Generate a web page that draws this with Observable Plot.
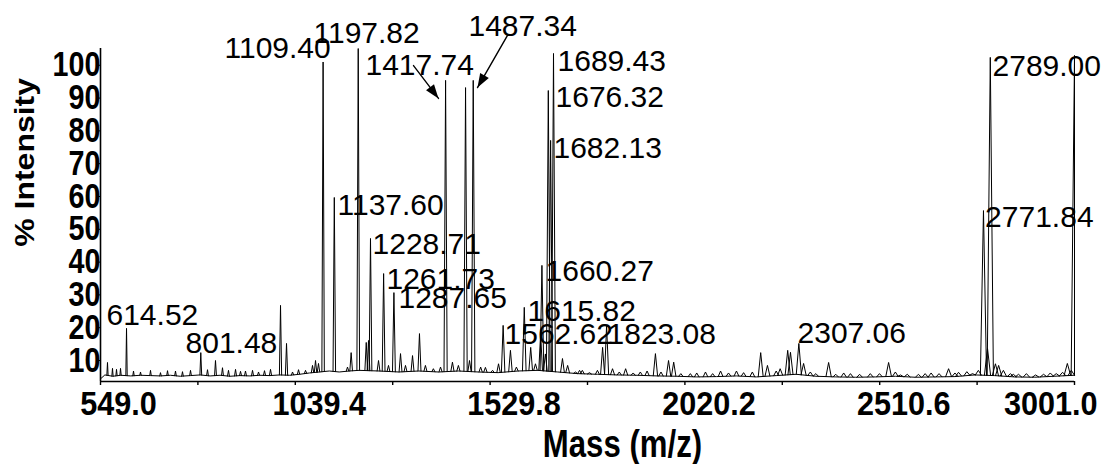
<!DOCTYPE html>
<html><head><meta charset="utf-8">
<script src="https://cdn.jsdelivr.net/npm/d3@7"></script>
<script src="https://cdn.jsdelivr.net/npm/@observablehq/plot@0.6"></script>
<style>
html,body{margin:0;padding:0;background:#fff;}
#chart{width:1110px;height:464px;overflow:hidden;}
</style></head><body><div id="chart"></div>
<script>
// ---- data ----
const peakMass = [566.6,579.2,589.3,599.4,614.52,632.1,649.7,674.9,700.0,717.7,737.8,755.4,775.6,801.48,818.4,838.5,856.1,871.2,888.9,901.5,914.0,931.7,946.8,961.9,977.0,1002.2,1017.3,1032.4,1047.5,1065.1,1082.7,1090.3,1097.8,1109.40,1137.60,1170.8,1180.0,1197.82,1218.0,1223.7,1228.71,1248.9,1261.73,1274.0,1287.65,1304.3,1316.8,1334.5,1352.0,1367.0,1387.0,1405.0,1417.74,1435.0,1450.0,1468.0,1478.0,1487.34,1506.0,1518.0,1536.0,1551.0,1562.62,1581.0,1596.0,1615.82,1632.0,1644.0,1657.0,1660.27,1669.0,1676.32,1682.13,1689.43,1712.0,1725.0,1745.0,1755.0,1762.0,1780.0,1800.0,1813.0,1823.08,1838.0,1855.0,1871.0,1890.0,1908.0,1925.0,1946.0,1960.0,1979.0,1992.0,2010.0,2034.0,2050.0,2072.0,2090.0,2110.0,2130.0,2150.0,2168.0,2190.0,2211.0,2228.0,2250.0,2260.0,2279.0,2286.0,2307.06,2319.0,2336.0,2350.0,2382.0,2400.0,2420.0,2437.0,2460.0,2487.0,2510.0,2533.0,2550.0,2563.0,2580.0,2608.0,2625.0,2640.0,2660.0,2684.0,2700.0,2709.0,2730.0,2744.0,2759.0,2771.84,2782.0,2789.00,2802.0,2810.0,2822.0,2840.0,2847.0,2860.0,2880.0,2903.0,2923.0,2940.0,2955.0,2971.0,2983.0,2993.0,3001.0];
const peakInt  = [9.4,7.6,7.3,7.6,19.8,6.8,6.5,7.0,6.3,6.9,6.8,6.6,7.0,12.4,7.2,10.0,7.8,7.0,7.3,6.7,6.8,7.0,6.5,6.9,7.3,26.8,15.2,6.5,7.2,7.0,8.5,10.0,9.1,101.0,59.7,8.0,12.4,105.1,15.5,16.1,47.2,10.0,36.5,8.5,30.7,12.1,8.5,11.5,18.2,8.5,7.5,8.0,95.4,9.5,8.5,93.2,10.0,95.4,8.0,7.9,7.0,9.0,20.7,13.1,8.0,26.2,14.0,9.0,18.2,39.0,12.0,92.3,77.1,103.6,10.6,8.5,6.5,7.0,7.0,6.3,7.0,14.0,20.7,7.5,6.5,7.5,6.2,6.5,6.8,12.1,6.5,10.0,9.5,6.0,6.0,6.2,6.5,6.0,6.8,6.2,6.8,6.3,6.5,12.4,8.5,6.8,7.5,13.1,12.5,15.2,9.1,6.5,6.0,9.4,5.8,6.2,6.0,5.8,6.0,6.0,9.4,6.5,5.6,5.8,5.8,6.0,6.2,6.0,7.5,6.2,6.4,6.6,6.0,7.0,55.7,13.7,102.4,9.0,8.5,7.0,6.0,5.8,5.8,6.0,5.6,5.8,6.2,6.0,6.4,9.1,7.0,103.0];

const baseMass = [549,560,580,600,625,650,675,700,725,750,775,800,825,850,875,900,925,950,975,1000,1025,1050,1075,1100,1125,1150,1175,1200,1250,1300,1350,1400,1450,1500,1550,1600,1650,1700,1750,1800,1850,1900,1950,2000,2050,2100,2150,2200,2250,2300,2350,2400,2450,2500,2550,2600,2650,2700,2750,2800,2850,2900,2950,3001];
const baseInt  = [4.4,5.6,5.2,5.5,5.3,5.5,5.4,5.3,5.5,5.2,5.4,5.6,5.3,5.5,5.2,5.4,5.3,5.5,5.4,5.6,5.5,5.8,6.2,6.5,6.8,6.5,6.8,7.0,6.8,6.5,6.8,6.5,6.8,6.5,6.3,6.8,7.0,6.5,6.0,5.8,5.6,5.5,5.3,5.2,5.0,5.1,5.3,5.0,5.4,5.8,5.2,5.0,4.9,5.0,5.2,4.9,5.0,5.1,5.6,5.4,5.0,4.9,5.2,5.5];

const labelText = ["614.52","801.48","1109.40","1197.82","1417.74","1487.34","1689.43","1676.32","1682.13","1137.60","1228.71","1261.73","1287.65","1660.27","1615.82","1562.62","1823.08","2307.06","2771.84","2789.00"];
const labelMass = [564.1,763.0,861.2,1085.2,1216.1,1475.4,1699.5,1694.5,1689.4,1145.6,1233.8,1269.0,1299.2,1669.3,1624.0,1566.1,1825.4,2303.7,2776.0,2794.6];
const labelInt  = [23.7,15.2,105.1,109.7,99.9,111.8,101.2,90.2,74.6,57.3,45.4,34.7,28.9,37.1,24.9,17.9,17.9,18.2,53.6,99.6];

const arrowMass1 = [1337.0,1573.6];
const arrowInt1  = [99.9,109.1];
const arrowMass2 = [1399.9,1498.1];
const arrowInt2  = [89.9,93.2];

const xTicks = [549.0,794.2,1039.4,1284.6,1529.8,1775.0,2020.2,2265.4,2510.6,2755.8,3001.0];
const xTickLabels = [549.0,1039.4,1529.8,2020.2,2510.6,3001.0];
const yTicks = [10,20,30,40,50,60,70,80,90,100];
const xTitle = "Mass (m/z)";
const yTitle = "% Intensity";

// ---- build tables ----
const baseAt = d3.scaleLinear().domain(baseMass).range(baseInt);
const baseRows = baseMass.map((m,i)=>({m, v: baseInt[i]}));
const peakRows = [];
peakMass.forEach((m,i)=>{
  const w = m*0.0028;
  peakRows.push({id:i, m:m-w, v:baseAt(m-w)});
  peakRows.push({id:i, m:m, v:peakInt[i]});
  peakRows.push({id:i, m:Math.min(m+w,3001), v:baseAt(Math.min(m+w,3001))});
});
const labels = labelText.map((t,i)=>({t, m:labelMass[i], v:labelInt[i]}));
const arrows = arrowMass1.map((m,i)=>({x1:m, y1:arrowInt1[i], x2:arrowMass2[i], y2:arrowInt2[i]}));

const FONT = "'Liberation Sans', Arial, Helvetica, sans-serif";
const yMin = 3.6, yMax = 110.6;
const fmt = d => d.toFixed(1);
const W = 1110, H = 464, ML = 100, MR = 36, MT = 30, MB = 83;

// screen-space direction of each arrow (for the filled head)
const sx = Plot.scale({x: {domain: [549, 3001], range: [ML, W - MR]}});
const sy = Plot.scale({y: {domain: [yMin, yMax], range: [H - MB, MT]}});
arrows.forEach(a => {
  const dx = sx.apply(a.x2) - sx.apply(a.x1), dy = sy.apply(a.y2) - sy.apply(a.y1);
  a.rot = Math.atan2(dx, -dy) * 180 / Math.PI;
});
const headShape = {draw(ctx, l) { ctx.moveTo(0, -l); ctx.lineTo(-5, -l + 14); ctx.lineTo(5, -l + 14); ctx.closePath(); }};

function makeMarks(withHeads) {
  return [
    Plot.line(baseRows, {x: "m", y: "v", stroke: "#000", strokeWidth: 1}),
    Plot.line(peakRows, {x: "m", y: "v", z: "id", stroke: "#000", strokeWidth: 1}),
    Plot.ruleY([yMin], {stroke: "#000", strokeWidth: 1.6}),
    Plot.ruleX([549], {y1: yMin, y2: 105.1, stroke: "#000", strokeWidth: 1.6}),
    Plot.axisX({ticks: xTicks, tickSize: 4, tickFormat: () => "", strokeWidth: 1.4}),
    Plot.axisX({ticks: [xTickLabels[0]], tickSize: 0, tickPadding: 9, dx: 18, fontSize: 34, fontWeight: "bold", tickFormat: fmt}),
    Plot.axisX({ticks: xTickLabels.slice(1,5), tickSize: 0, tickPadding: 9, dx: 24, fontSize: 34, fontWeight: "bold", tickFormat: fmt}),
    Plot.axisX({ticks: [xTickLabels[5]], tickSize: 0, tickPadding: 9, dx: 23, textAnchor: "end", fontSize: 34, fontWeight: "bold", tickFormat: fmt}),
    Plot.axisY({ticks: yTicks, tickSize: 3, tickPadding: -3, fontSize: 35, fontWeight: "bold"}),
    Plot.text(labels, {x: "m", y: "v", text: "t", textAnchor: "start", lineAnchor: "middle", fontSize: 30, fill: "#000"}),
    Plot.arrow(arrows, {x1: "x1", y1: "y1", x2: "x2", y2: "y2", stroke: "#000", strokeWidth: 1.4, headLength: withHeads ? 0 : 13, headAngle: 50}),
    withHeads ? Plot.vector(arrows, {x: "x2", y: "y2", rotate: "rot", length: 14, anchor: "end", shape: headShape, fill: "#000", stroke: "none"}) : null,
    Plot.text([yTitle], {frameAnchor: "left", y: 70.4, dx: -75, rotate: -90, fontSize: 32, fontWeight: "bold", textAnchor: "middle", lineAnchor: "middle"}),
    Plot.text([xTitle], {x: 1863, frameAnchor: "bottom", dy: 63, fontSize: 38, fontWeight: "bold", textAnchor: "middle", lineAnchor: "middle"})
  ];
}
const opts = {
  width: W, height: H,
  marginLeft: ML, marginRight: MR, marginTop: MT, marginBottom: MB,
  x: {domain: [549, 3001], label: null, axis: null},
  y: {domain: [yMin, yMax], label: null, axis: null},
  style: {background: "#fff", fontFamily: FONT, color: "#000", overflow: "visible"}
};
let svg;
try { svg = Plot.plot({...opts, marks: makeMarks(true)}); }
catch (e) { svg = Plot.plot({...opts, marks: makeMarks(false)}); }

// horizontal condensing of the bold texts (the reference uses a narrow bold face)
function squeeze(nodes, kx, ky) {
  nodes.forEach(node => {
    const tr = node.getAttribute("transform") || "";
    node.setAttribute("transform", `${tr} scale(${kx},${ky})`);
  });
}
const texts = Array.from(svg.querySelectorAll("text"));
const groupOf = t => { const g = t.closest("g[aria-label]"); return g ? g.getAttribute("aria-label") : ""; };
squeeze(texts.filter(t => groupOf(t) === "y-axis tick label"), 0.82, 1);
squeeze(texts.filter(t => groupOf(t) === "x-axis tick label"), 0.9, 1);
squeeze(texts.filter(t => t.textContent === xTitle), 0.82, 1);
squeeze(texts.filter(t => t.textContent === yTitle), 1, 0.85);

document.getElementById("chart").appendChild(svg);
</script></body></html>
